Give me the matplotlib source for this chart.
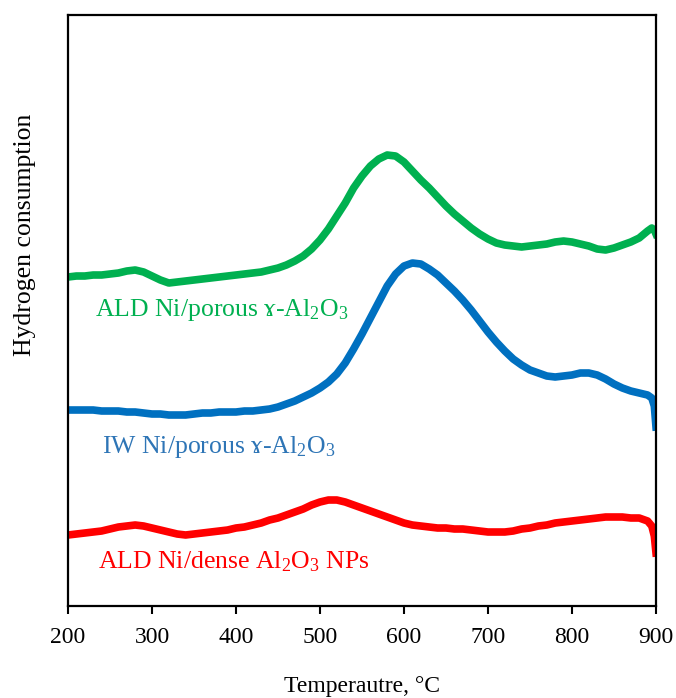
import matplotlib.pyplot as plt

plt.rcParams['font.family'] = ['Liberation Serif', 'DejaVu Serif']
plt.rcParams['mathtext.fontset'] = 'custom'
plt.rcParams['mathtext.rm'] = 'Liberation Serif'
plt.rcParams['mathtext.default'] = 'rm'

# temperature (°C), read every 10 degrees from the picture
temps = [200, 210, 220, 230, 240, 250, 260, 270, 280, 290, 300, 310, 320, 330, 340,
         350, 360, 370, 380, 390, 400, 410, 420, 430, 440, 450, 460, 470, 480, 490,
         500, 510, 520, 530, 540, 550, 560, 570, 580, 590, 600, 610, 620, 630, 640,
         650, 660, 670, 680, 690, 700, 710, 720, 730, 740, 750, 760, 770, 780, 790,
         800, 810, 820, 830, 840, 850, 860, 870, 880, 890, 895, 898, 900]

# hydrogen consumption, arbitrary units (curves are offset as in the original)
ald_porous = [329, 330, 330, 331, 331, 332, 333, 335, 336, 334, 330, 326, 323, 324, 325,
              326, 327, 328, 329, 330, 331, 332, 333, 334, 336, 338, 341, 345, 350, 357,
              366, 377, 390, 403, 418, 430, 440, 447, 451, 450, 444, 435, 426, 418, 409,
              400, 392, 385, 378, 372, 367, 363, 361, 360, 359, 360, 361, 362, 364, 365,
              364, 362, 360, 357, 356, 358, 361, 364, 368, 375, 378, 376, 372]

iw_porous = [196, 196, 196, 196, 195, 195, 195, 194, 194, 193, 192, 192, 191, 191, 191,
             192, 193, 193, 194, 194, 194, 195, 195, 196, 197, 199, 202, 205, 209, 213,
             218, 224, 232, 243, 257, 272, 288, 304, 320, 332, 340, 343, 342, 337, 331,
             323, 315, 306, 296, 285, 274, 264, 255, 247, 241, 236, 233, 230, 229, 230,
             231, 233, 233, 231, 227, 222, 218, 215, 213, 211, 208, 200, 179]

ald_dense = [71, 72, 73, 74, 75, 77, 79, 80, 81, 80, 78, 76, 74, 72, 71,
             72, 73, 74, 75, 76, 78, 79, 81, 83, 86, 88, 91, 94, 97, 101,
             104, 106, 106, 104, 101, 98, 95, 92, 89, 86, 83, 81, 80, 79, 78,
             78, 77, 77, 76, 75, 74, 74, 74, 75, 77, 78, 80, 81, 83, 84,
             85, 86, 87, 88, 89, 89, 89, 88, 88, 85, 80, 70, 53]

xticks = [200, 300, 400, 500, 600, 700, 800, 900]

fig = plt.figure(figsize=(6.76, 6.98), dpi=100)
ax = fig.add_axes([0.1006, 0.1318, 0.8698, 0.8467])

ax.plot(temps, ald_porous, color='#00B050', lw=5.5)
ax.plot(temps, iw_porous, color='#0070C0', lw=5.5)
ax.plot(temps, ald_dense, color='#FF0000', lw=5.5)

ax.set_xlim(200, 900)
ax.set_ylim(0, 591)
ax.set_xticks(xticks)
ax.set_yticks([])
ax.tick_params(axis='x', direction='out', length=6, width=1.5, labelsize=17, pad=9)
for s in ax.spines.values():
    s.set_linewidth(1.6)

ax.text(232, 296, 'ALD Ni/porous ɤ-Al$_2$O$_3$', color='#00B050', fontsize=18.5, va='center')
ax.text(240, 159, 'IW Ni/porous ɤ-Al$_2$O$_3$', color='#2E75B6', fontsize=18.5, va='center')
ax.text(236, 44, 'ALD Ni/dense Al$_2$O$_3$ NPs', color='#FF0000', fontsize=18.5, va='center')

ax.set_xlabel('Temperautre, °C', fontsize=17, labelpad=20)
ax.set_ylabel('Hydrogen consumption', fontsize=18.5)
ax.yaxis.set_label_coords(-0.055, 0.628)

fig.savefig('out.png', dpi=100)
